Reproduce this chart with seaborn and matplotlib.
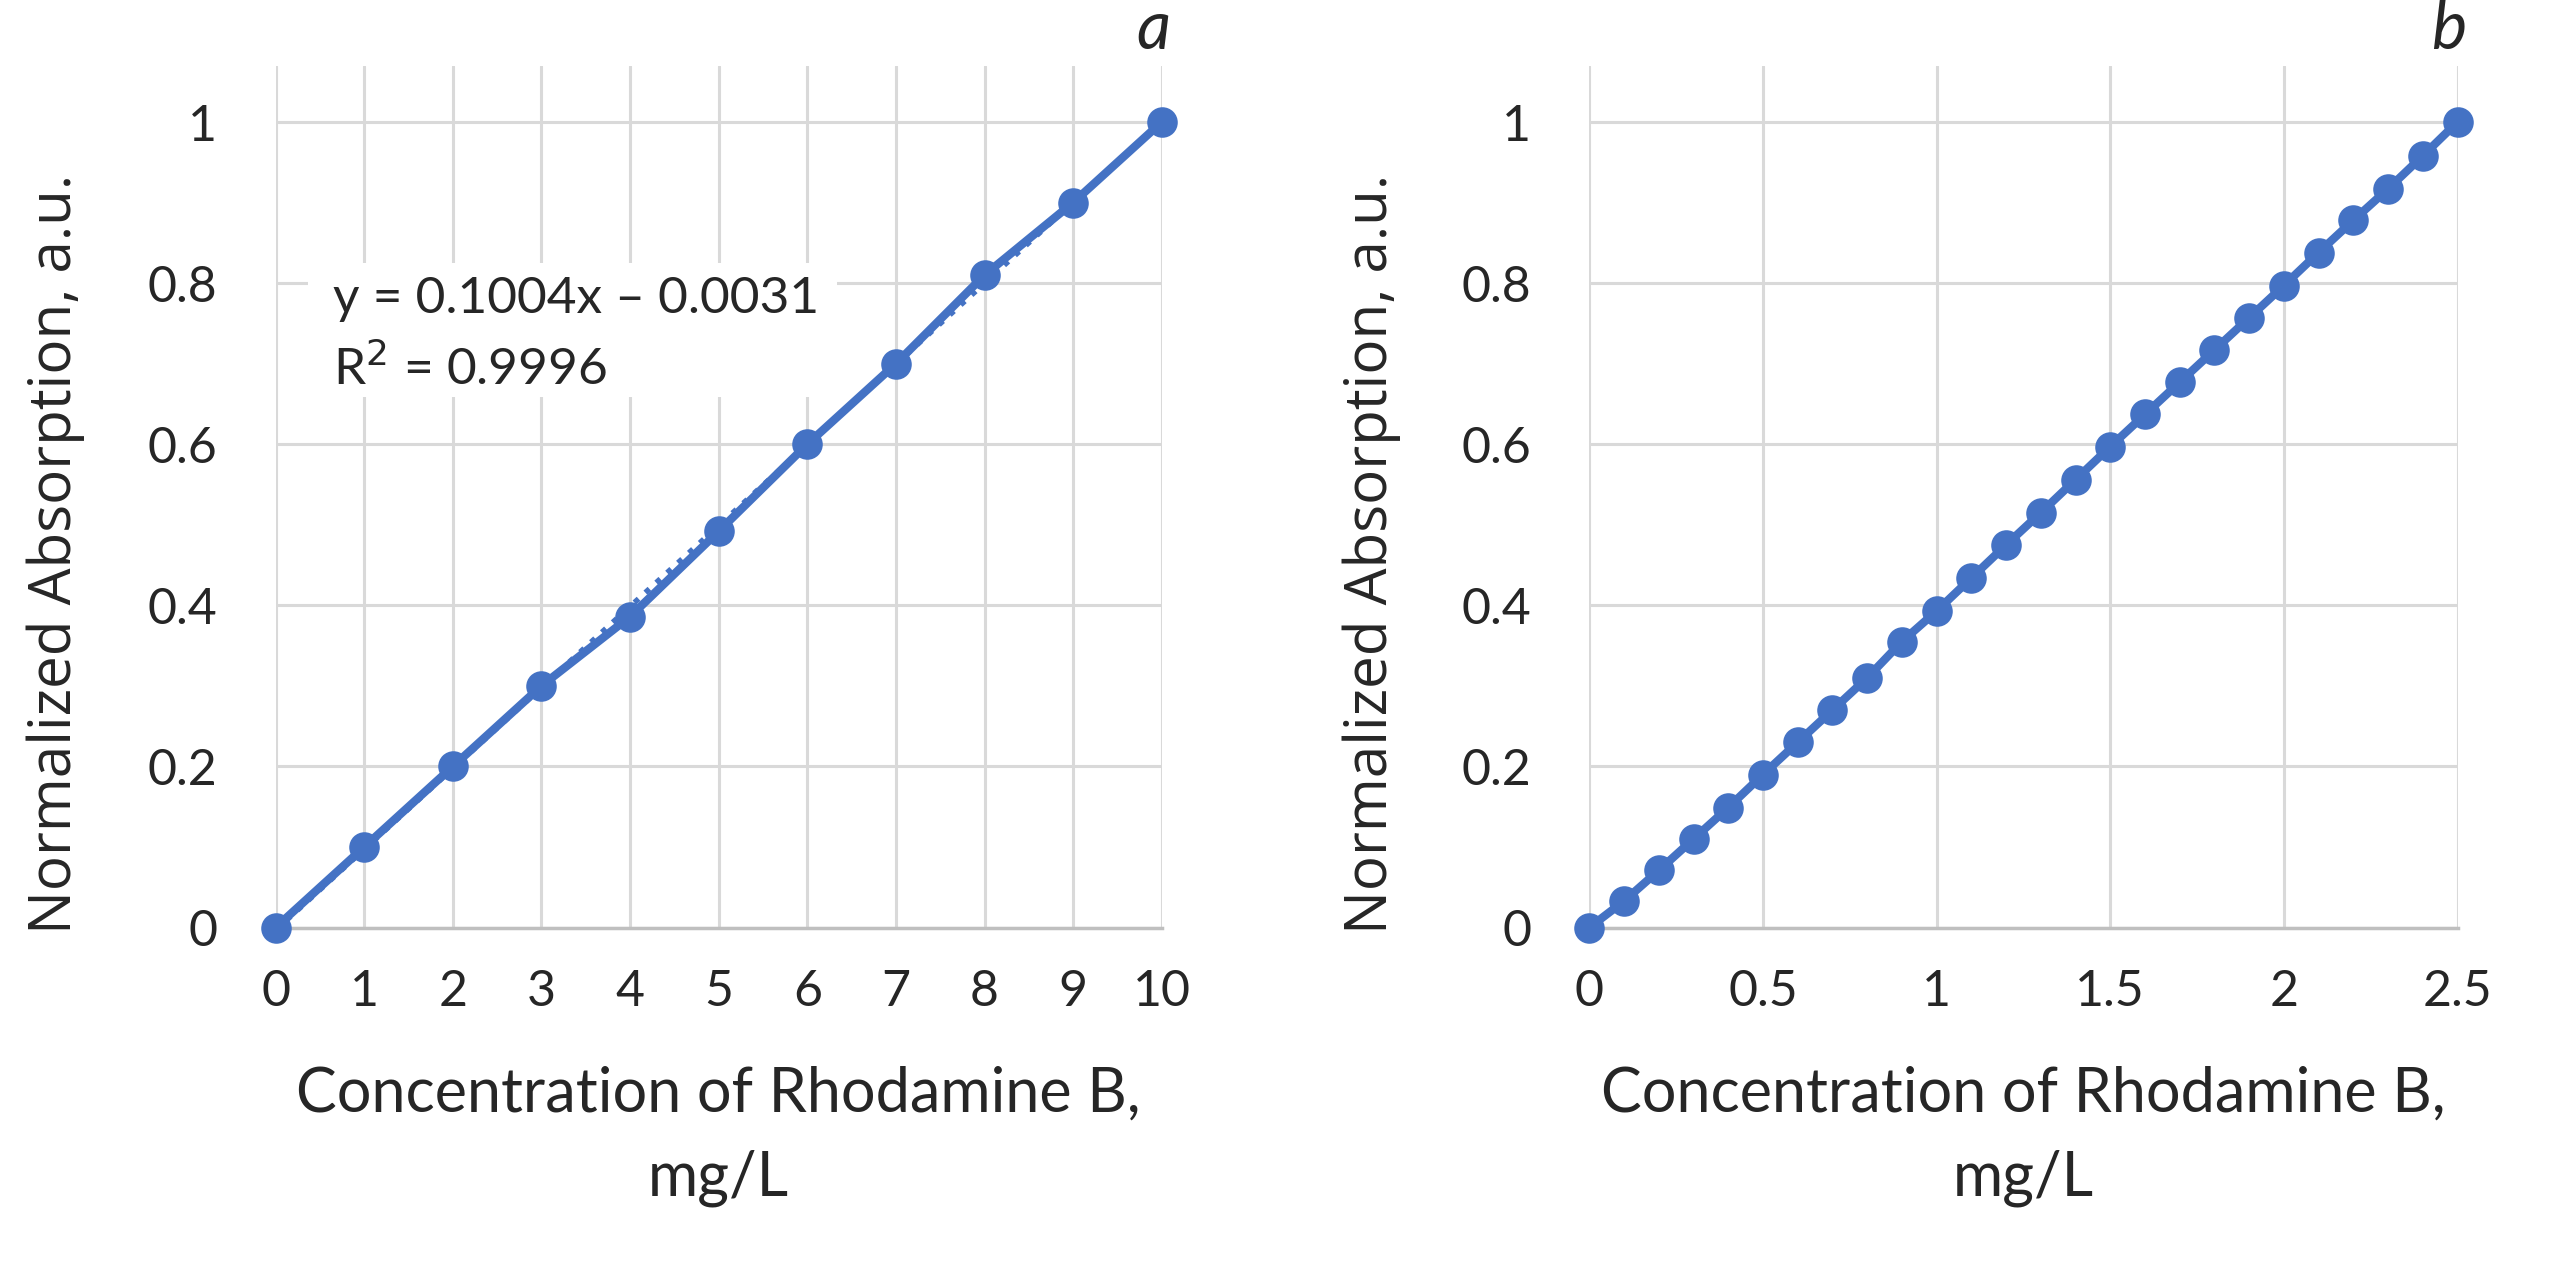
import numpy as np
import pandas as pd
import matplotlib
matplotlib.use("Agg")
import matplotlib.pyplot as plt
import seaborn as sns
from matplotlib.patches import Rectangle

# panel a: calibration 0-10 mg/L
conc_a = [0, 1, 2, 3, 4, 5, 6, 7, 8, 9, 10]
abs_a = [0.0, 0.10, 0.20, 0.30, 0.386, 0.492, 0.60, 0.70, 0.81, 0.90, 1.0]
fit_slope, fit_intercept = 0.1004, -0.0031
fit_text = "y = 0.1004x \u2013 0.0031\nR$^2$ = 0.9996"

# panel b: calibration 0-2.5 mg/L
conc_b = [0.0, 0.1, 0.2, 0.3, 0.4, 0.5, 0.6, 0.7, 0.8, 0.9, 1.0, 1.1, 1.2,
          1.3, 1.4, 1.5, 1.6, 1.7, 1.8, 1.9, 2.0, 2.1, 2.2, 2.3, 2.4, 2.5]
abs_b = [0.0, 0.033, 0.071, 0.11, 0.149, 0.19, 0.23, 0.27, 0.31, 0.355,
         0.393, 0.434, 0.475, 0.515, 0.556, 0.597, 0.637, 0.677, 0.717,
         0.757, 0.797, 0.838, 0.878, 0.917, 0.958, 1.0]

yticks = [0, 0.2, 0.4, 0.6, 0.8, 1.0]
ytick_labels = ["0", "0.2", "0.4", "0.6", "0.8", "1"]
xticks_a = [0, 1, 2, 3, 4, 5, 6, 7, 8, 9, 10]
xticks_b = [0, 0.5, 1, 1.5, 2, 2.5]
xtick_labels_b = ["0", "0.5", "1", "1.5", "2", "2.5"]

xlabel = "Concentration of Rhodamine B,\nmg/L"
ylabel = "Normalized Absorption, a.u."

blue = "#4472C4"
grid_c = "#d9d9d9"

sns.set_theme(style="white")
plt.rcParams["font.family"] = ["Lato", "DejaVu Sans"]

fig = plt.figure(figsize=(25.76, 12.62), dpi=100)
ax_a = fig.add_axes([0.107, 0.265, 0.344, 0.683])
ax_b = fig.add_axes([0.617, 0.265, 0.337, 0.683])

df_a = pd.DataFrame({"x": conc_a, "y": abs_a})
df_b = pd.DataFrame({"x": conc_b, "y": abs_b})


def style_axis(ax, xticks, xlabels, xmax, panel, ylab_x):
    ax.set_xlim(0, xmax)
    ax.set_ylim(0, 1.07)
    ax.set_xticks(xticks)
    ax.set_xticklabels(xlabels)
    ax.set_yticks(yticks)
    ax.set_yticklabels(ytick_labels)
    ax.grid(True, color=grid_c, linewidth=2.2)
    ax.set_axisbelow(True)
    for s in ["top", "right", "left"]:
        ax.spines[s].set_visible(False)
    ax.spines["bottom"].set_color("#bfbfbf")
    ax.spines["bottom"].set_linewidth(2.5)
    ax.tick_params(axis="x", length=0, pad=30, labelsize=36)
    ax.tick_params(axis="y", length=0, pad=42, labelsize=36)
    ax.set_xlabel(xlabel, fontsize=44, labelpad=36, linespacing=1.6)
    ax.set_ylabel(ylabel, fontsize=42,
                  family=["Open Sans", "DejaVu Sans"])
    ax.yaxis.set_label_coords(ylab_x, 0.434)
    ax.text(0.99, 1.019, panel, transform=ax.transAxes, fontsize=48,
            style="italic", ha="center", va="baseline")


# panel a
sns.lineplot(data=df_a, x="x", y="y", ax=ax_a, color=blue, linewidth=6,
             marker="o", markersize=22, markeredgewidth=0, clip_on=False,
             zorder=3)
fit_x = np.array([conc_a[0], conc_a[-1]])
ax_a.plot(fit_x, fit_slope * fit_x + fit_intercept, color=blue,
          linestyle=":", linewidth=4, zorder=2.5)
# white label box of the trendline, covering the grid
ax_a.add_patch(Rectangle((0.37, 0.659), 5.96, 0.166, facecolor="white",
                         edgecolor="none", zorder=1.5))
ax_a.text(0.65, 0.736, fit_text, fontsize=37, va="center", ha="left",
          linespacing=1.5, zorder=2)
style_axis(ax_a, xticks_a, [str(v) for v in xticks_a], 10, "a", -0.215)

# panel b
sns.lineplot(data=df_b, x="x", y="y", ax=ax_b, color=blue, linewidth=6,
             marker="o", markersize=22, markeredgewidth=0, clip_on=False,
             zorder=3)
style_axis(ax_b, xticks_b, xtick_labels_b, 2.5, "b", -0.217)

fig.savefig("out.png", dpi=100)
